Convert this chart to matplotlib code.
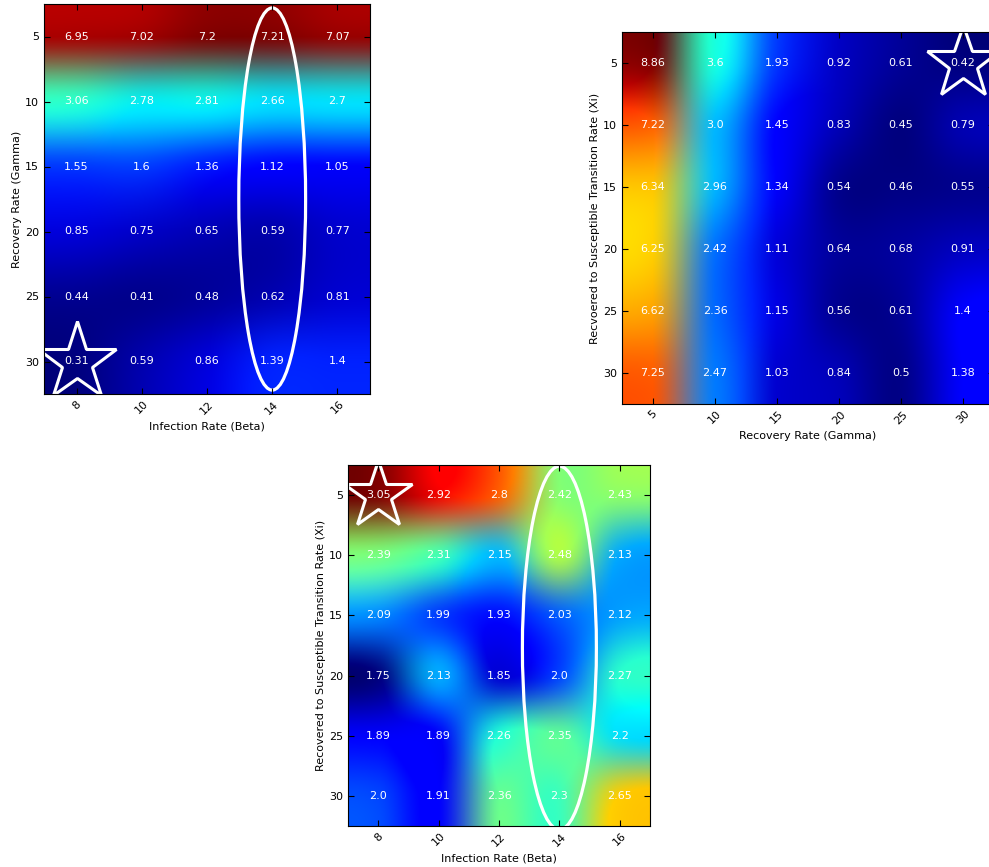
import matplotlib
matplotlib.use("Agg")
import matplotlib.pyplot as plt
from matplotlib.patches import Ellipse
import numpy as np

plt.rcParams['font.family'] = ['DejaVu Sans']
plt.rcParams['font.size'] = 8

# ---- data ----
beta = [8, 10, 12, 14, 16]
gamma = [5, 10, 15, 20, 25, 30]
xi = [5, 10, 15, 20, 25, 30]

# chart 1: rows = gamma, cols = beta
beta_gamma = [
    [6.95, 7.02, 7.2, 7.21, 7.07],
    [3.06, 2.78, 2.81, 2.66, 2.7],
    [1.55, 1.6, 1.36, 1.12, 1.05],
    [0.85, 0.75, 0.65, 0.59, 0.77],
    [0.44, 0.41, 0.48, 0.62, 0.81],
    [0.31, 0.59, 0.86, 1.39, 1.4],
]
# chart 2: rows = xi, cols = gamma
gamma_xi = [
    [8.86, 3.6, 1.93, 0.92, 0.61, 0.42],
    [7.22, 3.0, 1.45, 0.83, 0.45, 0.79],
    [6.34, 2.96, 1.34, 0.54, 0.46, 0.55],
    [6.25, 2.42, 1.11, 0.64, 0.68, 0.91],
    [6.62, 2.36, 1.15, 0.56, 0.61, 1.4],
    [7.25, 2.47, 1.03, 0.84, 0.5, 1.38],
]
# chart 3: rows = xi, cols = beta
beta_xi = [
    [3.05, 2.92, 2.8, 2.42, 2.43],
    [2.39, 2.31, 2.15, 2.48, 2.13],
    [2.09, 1.99, 1.93, 2.03, 2.12],
    [1.75, 2.13, 1.85, 2.0, 2.27],
    [1.89, 1.89, 2.26, 2.35, 2.2],
    [2.0, 1.91, 2.36, 2.3, 2.65],
]

W, H = 989, 867
fig = plt.figure(figsize=(W / 100, H / 100), dpi=100)


def px_axes(l, t, r, b):
    return fig.add_axes([l / W, 1 - b / H, (r - l) / W, (b - t) / H])


def heat(ax, xs, ys, vals, xlabel, ylabel, star, star_ms, ell=None):
    vals = np.array(vals)
    dx = (xs[1] - xs[0]) / 2
    dy = (ys[1] - ys[0]) / 2
    ax.imshow(vals, cmap='jet', interpolation='catrom', interpolation_stage='rgba',
              extent=[xs[0] - dx, xs[-1] + dx, ys[-1] + dy, ys[0] - dy], aspect='auto')
    for i, yv in enumerate(ys):
        for j, xv in enumerate(xs):
            ax.text(xv, yv, str(vals[i, j]), color='white', ha='center', va='center', fontsize=8)
    ax.set_xticks(xs)
    ax.set_yticks(ys)
    ax.set_xticklabels([str(v) for v in xs], rotation=45)
    ax.tick_params(direction='in', top=True, right=True, length=4, width=0.8, labelsize=8)
    ax.set_xlabel(xlabel, fontsize=8)
    ax.set_ylabel(ylabel, fontsize=8, labelpad=2)
    ax.plot([star[0]], [star[1]], marker='*', ms=star_ms, mfc='none', mec='white', mew=2.2)
    if ell is not None:
        ax.add_patch(Ellipse(ell[0], ell[1], ell[2], fill=False, ec='white', lw=2.3))
    ax.set_xlim(xs[0] - dx, xs[-1] + dx)
    ax.set_ylim(ys[-1] + dy, ys[0] - dy)


ax1 = px_axes(44, 4, 370, 394)
heat(ax1, beta, gamma, beta_gamma, 'Infection Rate (Beta)', 'Recovery Rate (Gamma)',
     (8, 30), 59, ((14, 17.5), 2.05, 29.4))

ax2 = px_axes(622, 32, 994, 404)
heat(ax2, gamma, xi, gamma_xi, 'Recovery Rate (Gamma)',
     'Recvoered to Susceptible Transition Rate (Xi)', (30, 5), 55)

ax3 = px_axes(348, 465, 650, 826)
heat(ax3, beta, xi, beta_xi, 'Infection Rate (Beta)',
     'Recovered to Susceptible Transition Rate (Xi)', (8, 5), 51, ((14, 17.7), 2.45, 30.2))

fig.savefig('out.png', dpi=100, facecolor='white')
